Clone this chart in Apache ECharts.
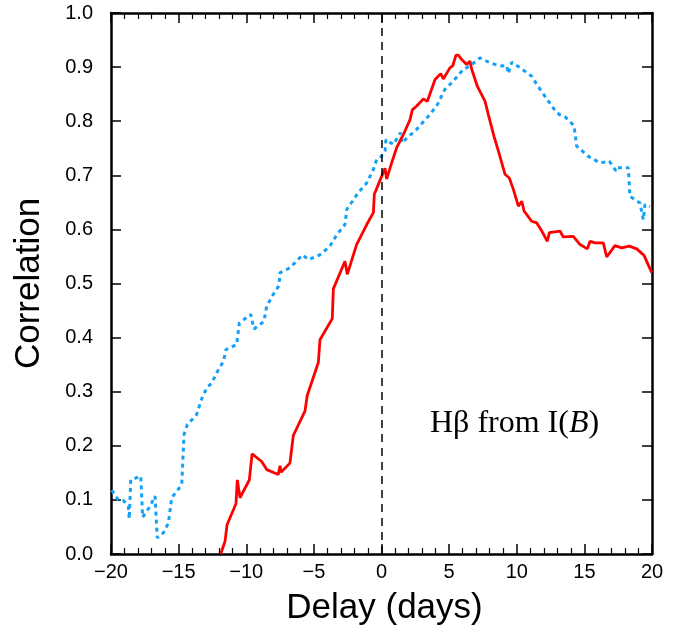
<!DOCTYPE html>
<html>
<head>
<meta charset="utf-8">
<script src="https://cdn.jsdelivr.net/npm/echarts@6/dist/echarts.min.js"></script>
<style>html,body{margin:0;padding:0;background:#fff;}#c{width:697px;height:634px;}</style>
</head>
<body>
<div id="c"></div>
<script>
// Red: solid curve
var redDelay = [-11.89,-11.57,-11.42,-10.76,-10.66,-10.46,-9.77,-9.57,-9.43,-8.86,-8.49,-7.63,-7.50,-7.43,-6.77,-6.52,-5.66,-5.49,-4.67,-4.55,-3.64,-3.56,-2.70,-2.53,-1.84,-1.09,-0.60,-0.53,0.01,0.26,0.38,0.75,1.12,1.61,2.11,2.28,2.60,3.09,3.39,3.96,4.38,4.57,5.07,5.26,5.51,5.68,5.93,6.30,6.54,6.67,7.08,7.65,7.90,8.32,8.64,9.13,9.45,9.75,10.12,10.37,10.54,11.11,11.48,11.85,12.26,12.41,13.20,13.44,14.18,14.68,15.22,15.42,15.79,16.40,16.65,17.26,17.76,18.32,18.87,19.41,19.98];
var redCorr = [0.000,0.023,0.054,0.093,0.137,0.104,0.137,0.185,0.187,0.171,0.156,0.147,0.163,0.151,0.168,0.219,0.264,0.293,0.354,0.396,0.435,0.490,0.541,0.517,0.572,0.609,0.631,0.665,0.698,0.713,0.693,0.723,0.751,0.775,0.803,0.821,0.828,0.841,0.837,0.877,0.888,0.878,0.899,0.902,0.922,0.922,0.914,0.905,0.911,0.896,0.865,0.837,0.812,0.772,0.745,0.702,0.695,0.674,0.643,0.652,0.634,0.615,0.612,0.597,0.578,0.594,0.597,0.586,0.587,0.572,0.564,0.578,0.575,0.575,0.549,0.570,0.566,0.569,0.564,0.552,0.520];
// Blue: dotted curve
var blueDelay = [-19.95,-19.46,-19.09,-18.72,-18.65,-18.54,-17.80,-17.66,-17.12,-16.75,-16.63,-16.58,-16.13,-15.76,-15.51,-14.77,-14.60,-14.36,-13.67,-13.29,-12.92,-12.55,-12.18,-11.69,-11.50,-10.71,-10.51,-10.09,-9.67,-9.43,-8.69,-8.49,-8.00,-7.58,-7.50,-6.77,-5.83,-5.41,-4.55,-3.81,-3.31,-2.70,-2.57,-1.71,-1.09,-0.60,-0.36,-0.11,0.26,0.33,0.87,1.42,1.49,2.60,3.46,4.08,4.69,5.31,6.05,6.54,7.28,8.02,8.76,9.26,9.38,9.63,10.24,11.11,11.48,12.09,12.71,13.15,13.57,14.23,14.43,15.29,16.15,16.84,17.34,17.43,18.25,18.37,19.11,19.36,19.48,19.85];
var blueCorr = [0.118,0.100,0.099,0.088,0.065,0.137,0.144,0.068,0.088,0.107,0.105,0.030,0.039,0.057,0.104,0.128,0.221,0.239,0.258,0.287,0.307,0.316,0.335,0.356,0.378,0.387,0.427,0.435,0.443,0.416,0.430,0.458,0.480,0.496,0.520,0.529,0.553,0.544,0.553,0.569,0.590,0.609,0.637,0.668,0.686,0.711,0.729,0.732,0.745,0.766,0.757,0.779,0.760,0.785,0.809,0.828,0.859,0.874,0.896,0.902,0.917,0.908,0.902,0.903,0.888,0.909,0.899,0.883,0.868,0.846,0.824,0.812,0.808,0.792,0.754,0.735,0.723,0.726,0.708,0.714,0.714,0.661,0.649,0.618,0.646,0.642];
var xTicks = [-20,-15,-10,-5,0,5,10,15,20];
var yTicks = [0.0,0.1,0.2,0.3,0.4,0.5,0.6,0.7,0.8,0.9,1.0];
var zeroDelay = 0;

function zip(a,b){return a.map(function(v,i){return [v,b[i]];});}

var chart = echarts.init(document.getElementById('c'));
var sans = '"Liberation Sans", Arial, Helvetica, sans-serif';
var axisLine = {show:true, onZero:false, lineStyle:{color:'#000', width:2.5}};
var tick = {show:true, inside:true, length:10, lineStyle:{color:'#000', width:1.5}};
var minor = {show:true, splitNumber:5, length:6, lineStyle:{color:'#000', width:1.2}};
var xBase = {type:'value', min:xTicks[0], max:xTicks[xTicks.length-1], interval:5, splitLine:{show:false}, axisLine:axisLine, axisTick:tick, minorTick:minor};
var yBase = {type:'value', min:yTicks[0], max:yTicks[yTicks.length-1], interval:0.1, splitLine:{show:false}, axisLine:axisLine, axisTick:tick};

chart.setOption({
  animation:false,
  backgroundColor:'#fff',
  grid:{left:111, right:45, top:13, bottom:80, containLabel:false, outerBoundsMode:'none'},
  xAxis:[
    Object.assign({}, xBase, {position:'bottom',
      name:'Delay (days)', nameLocation:'middle', nameGap:37,
      nameTextStyle:{fontFamily:sans, fontSize:35, color:'#000', padding:[0,0,0,6]},
      axisLabel:{show:true, margin:8, fontFamily:sans, fontSize:20, color:'#000',
        formatter:function(v){return String(v).replace('-', '\u2212');}}}),
    Object.assign({}, xBase, {position:'top', axisLabel:{show:false}})
  ],
  yAxis:[
    Object.assign({}, yBase, {position:'left',
      name:'Correlation', nameLocation:'middle', nameGap:64,
      nameTextStyle:{fontFamily:sans, fontSize:35, color:'#000'},
      axisLabel:{show:true, margin:18, fontFamily:sans, fontSize:20, color:'#000',
        formatter:function(v){return v.toFixed(1);}}}),
    Object.assign({}, yBase, {position:'right', axisLabel:{show:false}})
  ],
  series:[
    {type:'line', name:'blue', data:zip(blueDelay, blueCorr), showSymbol:false, symbol:'none',
     lineStyle:{color:'#13a0f7', width:3, type:[4,4]}, z:3},
    {type:'line', name:'red', data:zip(redDelay, redCorr), showSymbol:false, symbol:'none',
     lineStyle:{color:'#ff0000', width:2.8}, z:4,
     markLine:{silent:true, symbol:'none', label:{show:false},
       lineStyle:{color:'#000', width:1.5, type:[8,6]},
       data:[{xAxis:zeroDelay}]}}
  ],
  graphic:[
    {type:'text', left:430, top:408, z:10,
     style:{text:'{n|H\u03b2 from I(}{i|B}{n|)}', rich:{
        n:{fontFamily:'"Liberation Serif", "Times New Roman", serif', fontSize:32, fill:'#000'},
        i:{fontFamily:'"Liberation Serif", "Times New Roman", serif', fontSize:32, fontStyle:'italic', fill:'#000'}}}}
  ]
});
</script>
</body>
</html>
